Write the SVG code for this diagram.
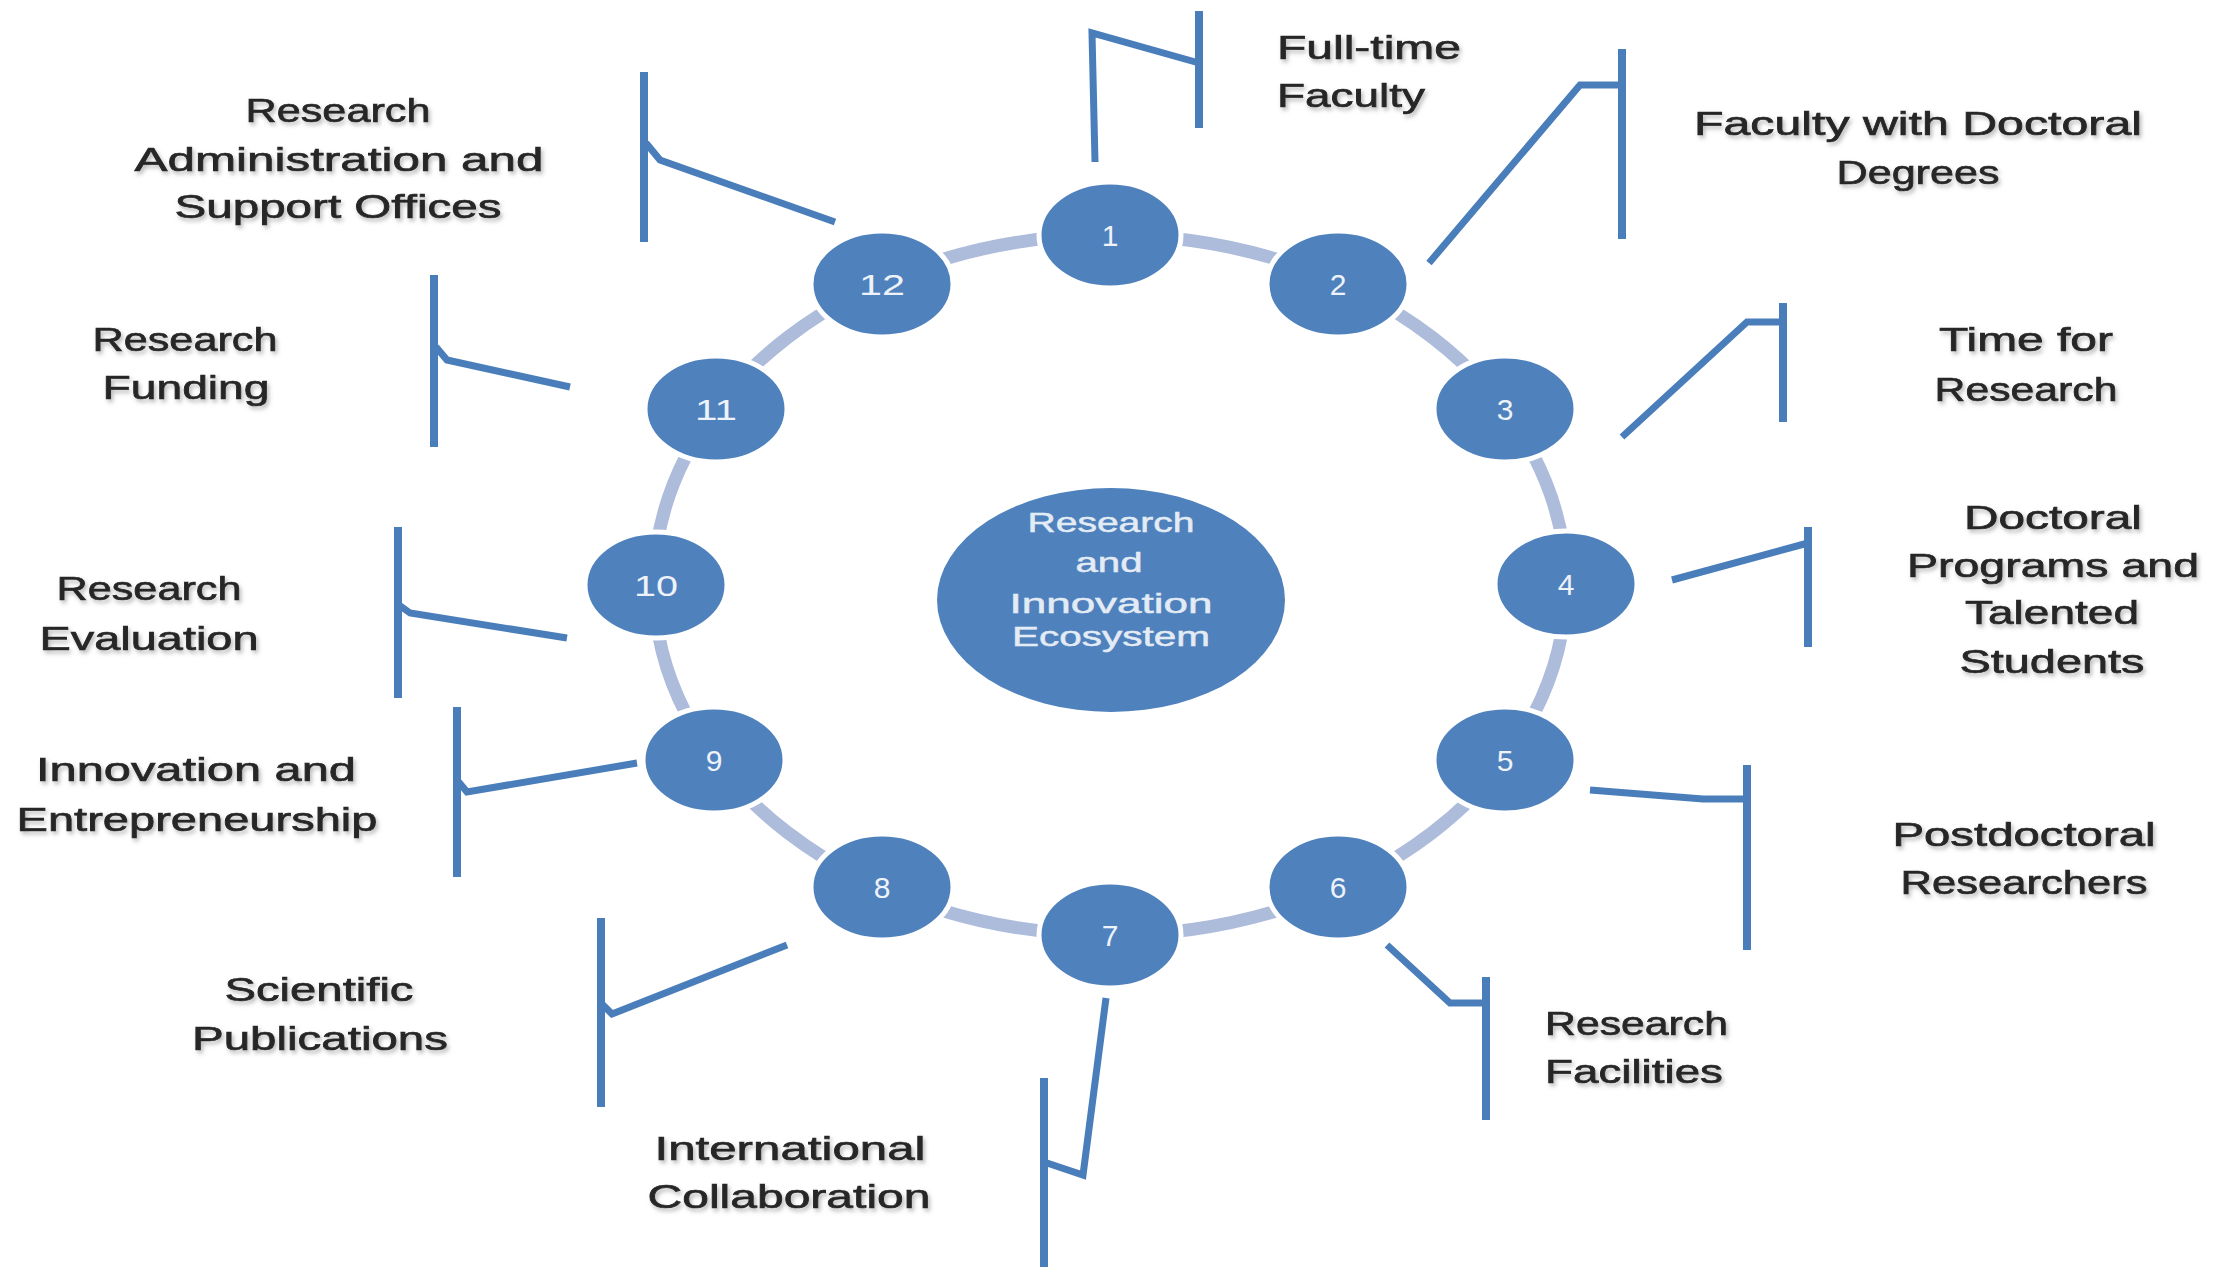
<svg xmlns="http://www.w3.org/2000/svg" width="2229" height="1272" viewBox="0 0 2229 1272">
<defs>
<filter id="sh" x="-10%" y="-30%" width="120%" height="160%">
<feDropShadow dx="2" dy="3" stdDeviation="2" flood-color="#7f7f7f" flood-opacity="0.55"/>
</filter>
<style>
.node{fill:#4f81bd;stroke:#ffffff;stroke-width:5}
.num{font-family:"Liberation Sans",Arial,sans-serif;font-size:30px;fill:#eef2f9;text-anchor:middle}
.ctr{font-family:"Liberation Sans",Arial,sans-serif;font-size:28px;fill:#e3ebf5;stroke:#e3ebf5;stroke-width:0.5;text-anchor:middle}
.lbl{font-family:"Liberation Sans",Arial,sans-serif;font-size:34px;fill:#262626;stroke:#262626;stroke-width:0.7;filter:url(#sh)}
.mid{text-anchor:middle}
.st{text-anchor:start}
.ring{fill:none;stroke:#adbcdb;stroke-width:13}
.ln{fill:none;stroke:#4a7ebb;stroke-width:7;stroke-linejoin:miter}
.bar{fill:none;stroke:#4a7ebb;stroke-width:8}
</style>
</defs>
<rect width="2229" height="1272" fill="#ffffff"/>
<g id="connectors">
<ellipse class="ring" cx="1110" cy="585" rx="456" ry="350"/>
<path class="ln" d="M1095,162 L1092,33 L1199,63"/><path class="bar" d="M1199,11 V128"/>
<path class="ln" d="M1429,263 L1580,85 L1622,85"/><path class="bar" d="M1622,49 V239"/>
<path class="ln" d="M1622,437 L1747,322 L1783,322"/><path class="bar" d="M1783,303 V422"/>
<path class="ln" d="M1672,580 L1808,543"/><path class="bar" d="M1808,527 V647"/>
<path class="ln" d="M1590,790 L1703,799 L1747,799"/><path class="bar" d="M1747,765 V950"/>
<path class="ln" d="M1387,945 L1450,1003 L1486,1003"/><path class="bar" d="M1486,977 V1120"/>
<path class="ln" d="M1106,998 L1083,1175 L1044,1162"/><path class="bar" d="M1044,1078 V1267"/>
<path class="ln" d="M787,945 L612,1014 L601,1003"/><path class="bar" d="M601,918 V1107"/>
<path class="ln" d="M637,763 L467,792 L457,780"/><path class="bar" d="M457,707 V877"/>
<path class="ln" d="M567,638 L410,613 L399,605"/><path class="bar" d="M398,527 V698"/>
<path class="ln" d="M570,387 L447,360 L436,347"/><path class="bar" d="M434,275 V447"/>
<path class="ln" d="M835,222 L660,160 L646,143"/><path class="bar" d="M644,72 V242"/>
</g>
<g id="center">
<ellipse cx="1111" cy="600" rx="174" ry="112" fill="#4f81bd"/>
<text class="ctr" x="1111" y="532" textLength="167" lengthAdjust="spacingAndGlyphs">Research</text>
<text class="ctr" x="1109" y="572" textLength="67" lengthAdjust="spacingAndGlyphs">and</text>
<text class="ctr" x="1111" y="613" textLength="203" lengthAdjust="spacingAndGlyphs">Innovation</text>
<text class="ctr" x="1111" y="646" textLength="198" lengthAdjust="spacingAndGlyphs">Ecosystem</text>
</g>
<g id="n1"><ellipse class="node" cx="1110" cy="235" rx="71" ry="53"/><text class="num" x="1110" y="246">1</text></g>
<g id="n2"><ellipse class="node" cx="1338" cy="284" rx="71" ry="53"/><text class="num" x="1338" y="295">2</text></g>
<g id="n3"><ellipse class="node" cx="1505" cy="409" rx="71" ry="53"/><text class="num" x="1505" y="420">3</text></g>
<g id="n4"><ellipse class="node" cx="1566" cy="584" rx="71" ry="53"/><text class="num" x="1566" y="595">4</text></g>
<g id="n5"><ellipse class="node" cx="1505" cy="760" rx="71" ry="53"/><text class="num" x="1505" y="771">5</text></g>
<g id="n6"><ellipse class="node" cx="1338" cy="887" rx="71" ry="53"/><text class="num" x="1338" y="898">6</text></g>
<g id="n7"><ellipse class="node" cx="1110" cy="935" rx="71" ry="53"/><text class="num" x="1110" y="946">7</text></g>
<g id="n8"><ellipse class="node" cx="882" cy="887" rx="71" ry="53"/><text class="num" x="882" y="898">8</text></g>
<g id="n9"><ellipse class="node" cx="714" cy="760" rx="71" ry="53"/><text class="num" x="714" y="771">9</text></g>
<g id="n10"><ellipse class="node" cx="656" cy="585" rx="71" ry="53"/><text class="num" x="656" y="596" textLength="44" lengthAdjust="spacingAndGlyphs">10</text></g>
<g id="n11"><ellipse class="node" cx="716" cy="409" rx="71" ry="53"/><text class="num" x="716" y="420" textLength="42" lengthAdjust="spacingAndGlyphs">11</text></g>
<g id="n12"><ellipse class="node" cx="882" cy="284" rx="71" ry="53"/><text class="num" x="882" y="295" textLength="46" lengthAdjust="spacingAndGlyphs">12</text></g>
<g id="label1">
<text class="lbl st" x="1277" y="59" textLength="184" lengthAdjust="spacingAndGlyphs">Full-time</text>
<text class="lbl st" x="1277" y="107" textLength="148" lengthAdjust="spacingAndGlyphs">Faculty</text>
</g>
<g id="label2">
<text class="lbl mid" x="1918" y="135" textLength="448" lengthAdjust="spacingAndGlyphs">Faculty with Doctoral</text>
<text class="lbl mid" x="1918" y="184" textLength="163" lengthAdjust="spacingAndGlyphs">Degrees</text>
</g>
<g id="label3">
<text class="lbl mid" x="2026" y="351" textLength="174" lengthAdjust="spacingAndGlyphs">Time for</text>
<text class="lbl mid" x="2026" y="401" textLength="183" lengthAdjust="spacingAndGlyphs">Research</text>
</g>
<g id="label4">
<text class="lbl mid" x="2053" y="529" textLength="178" lengthAdjust="spacingAndGlyphs">Doctoral</text>
<text class="lbl mid" x="2053" y="577" textLength="292" lengthAdjust="spacingAndGlyphs">Programs and</text>
<text class="lbl mid" x="2052" y="624" textLength="174" lengthAdjust="spacingAndGlyphs">Talented</text>
<text class="lbl mid" x="2052" y="673" textLength="185" lengthAdjust="spacingAndGlyphs">Students</text>
</g>
<g id="label5">
<text class="lbl mid" x="2024" y="846" textLength="263" lengthAdjust="spacingAndGlyphs">Postdoctoral</text>
<text class="lbl mid" x="2024" y="894" textLength="247" lengthAdjust="spacingAndGlyphs">Researchers</text>
</g>
<g id="label6">
<text class="lbl st" x="1545" y="1035" textLength="183" lengthAdjust="spacingAndGlyphs">Research</text>
<text class="lbl st" x="1545" y="1083" textLength="178" lengthAdjust="spacingAndGlyphs">Facilities</text>
</g>
<g id="label7">
<text class="lbl mid" x="790" y="1160" textLength="271" lengthAdjust="spacingAndGlyphs">International</text>
<text class="lbl mid" x="789" y="1208" textLength="283" lengthAdjust="spacingAndGlyphs">Collaboration</text>
</g>
<g id="label8">
<text class="lbl mid" x="319" y="1001" textLength="189" lengthAdjust="spacingAndGlyphs">Scientific</text>
<text class="lbl mid" x="320" y="1050" textLength="256" lengthAdjust="spacingAndGlyphs">Publications</text>
</g>
<g id="label9">
<text class="lbl mid" x="196" y="781" textLength="320" lengthAdjust="spacingAndGlyphs">Innovation and</text>
<text class="lbl mid" x="197" y="831" textLength="361" lengthAdjust="spacingAndGlyphs">Entrepreneurship</text>
</g>
<g id="label10">
<text class="lbl mid" x="149" y="600" textLength="185" lengthAdjust="spacingAndGlyphs">Research</text>
<text class="lbl mid" x="149" y="650" textLength="219" lengthAdjust="spacingAndGlyphs">Evaluation</text>
</g>
<g id="label11">
<text class="lbl mid" x="185" y="351" textLength="185" lengthAdjust="spacingAndGlyphs">Research</text>
<text class="lbl mid" x="186" y="399" textLength="167" lengthAdjust="spacingAndGlyphs">Funding</text>
</g>
<g id="label12">
<text class="lbl mid" x="338" y="122" textLength="185" lengthAdjust="spacingAndGlyphs">Research</text>
<text class="lbl mid" x="339" y="171" textLength="409" lengthAdjust="spacingAndGlyphs">Administration and</text>
<text class="lbl mid" x="338" y="218" textLength="327" lengthAdjust="spacingAndGlyphs">Support Offices</text>
</g>
</svg>
